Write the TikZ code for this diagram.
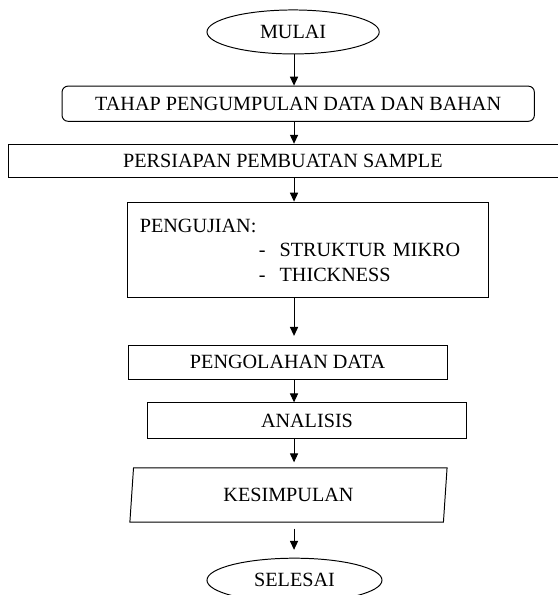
\documentclass[tikz,border=0pt]{standalone}
\usepackage{fontspec}
\setmainfont{Liberation Serif}
\usetikzlibrary{shapes.geometric,arrows.meta}

\begin{document}
\begin{tikzpicture}[
  font=\fontsize{12.4}{15}\selectfont,
  line width=0.6pt,
  terminal/.style={draw, ellipse, minimum width=3.72cm, minimum height=0.95cm, inner sep=0pt},
  prosesbox/.style={draw, rectangle, inner sep=0pt},
  panah/.style={-{Triangle[length=5.5pt,width=5pt]}}
]
  \useasboundingbox (0,0) rectangle (12.03,-12.85);
  % vertical line the arrows run along
  \coordinate (spine) at (6.35,0);
  % start
  \node[terminal] (mulai) at (6.33,-0.69) {MULAI};
  % data collection
  \node[prosesbox, rounded corners=0.13cm, minimum width=10.2cm, minimum height=0.76cm] (tahap) at (6.44,-2.24) {TAHAP PENGUMPULAN DATA DAN BAHAN};
  % sample preparation (runs off the right edge)
  \node[prosesbox, minimum width=12.2cm, minimum height=0.71cm] (persiapan) at (6.29,-3.47) {\hspace*{-0.36cm}PERSIAPAN PEMBUATAN SAMPLE};
  % tests
  \node[prosesbox, inner xsep=0.26cm, text width=7.26cm, align=left, minimum height=2.07cm] (pengujian) at (6.65,-5.40)
    {PENGUJIAN:\\
     \hspace*{2.57cm}\makebox[0.45cm][l]{-}STRUKTUR MIKRO\\
     \hspace*{2.57cm}\makebox[0.45cm][l]{-}THICKNESS};
  % data processing
  \node[prosesbox, minimum width=6.89cm, minimum height=0.73cm] (pengolahan) at (6.21,-7.82) {PENGOLAHAN DATA};
  % analysis
  \node[prosesbox, minimum width=6.87cm, minimum height=0.76cm] (analisis) at (6.63,-9.08) {ANALISIS};
  % conclusion
  \node[draw, trapezium, trapezium left angle=75, trapezium right angle=105, trapezium stretches body,
        minimum width=6.85cm, minimum height=1.17cm, inner sep=0pt] (kesimpulan) at (6.23,-10.69) {KESIMPULAN};
  % end
  \node[terminal, minimum width=3.78cm] (selesai) at (6.36,-12.53) {SELESAI};
  % arrows
  \draw[panah] (mulai.south -| spine) -- (tahap.north -| spine);
  \draw[panah] (tahap.south -| spine) -- (persiapan.north -| spine);
  \draw[panah] (persiapan.south -| spine) -- (pengujian.north -| spine);
  \draw[panah, shorten >=0.19cm] (pengujian.south -| spine) -- (pengolahan.north -| spine);
  \draw[panah] (pengolahan.south -| spine) -- (analisis.north -| spine);
  \draw[panah, shorten >=0.11cm] (analisis.south -| spine) -- (kesimpulan.north -| spine);
  \draw[panah, shorten <=0.13cm, shorten >=0.17cm] (kesimpulan.south -| spine) -- (selesai.north -| spine);
\end{tikzpicture}
\end{document}
